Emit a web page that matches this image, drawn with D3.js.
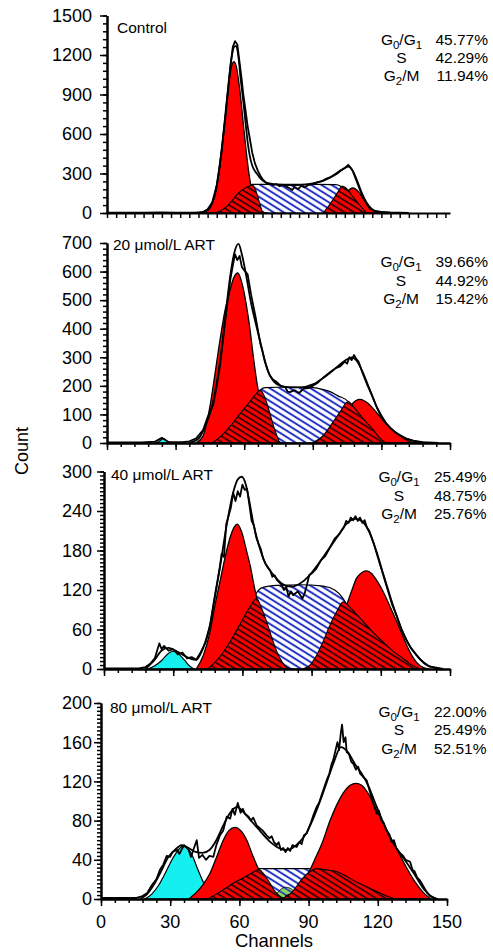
<!DOCTYPE html>
<html>
<head>
<meta charset="utf-8" />
<script src="https://cdn.jsdelivr.net/npm/d3@7"></script>
<style>
  body { margin: 0; background: #fff; }
  text { font-family: "Liberation Sans", Arial, sans-serif; fill: #000; }
</style>
</head>
<body>
<script>
// ---- data: [channel, count] ----
const xTicks = [0, 30, 60, 90, 120, 150];
const panelTitles = ["Control", "20 \u03bcmol/L ART", "40 \u03bcmol/L ART", "80 \u03bcmol/L ART"];
const phases = ["G_0/G_1", "S", "G_2/M"];

// Control
const ctrlYTicks = [0, 300, 600, 900, 1200, 1500];
const ctrlPct = ["45.77%", "42.29%", "11.94%"];
const ctrlRaw = [[0,2],[8,3],[16,2],[24,4],[30,2],[36,3],[40,3],[42,8],[44,28],[46,80],[48,210],[50,450],[52,760],[54,1120],[55,1260],[56,1305],[57,1280],[58,1140],[59,1000],[59.6,900],[60.5,790],[61.5,660],[62.5,560],[63.5,460],[64.7,377],[66,320],[67,285],[68,258],[69.8,225],[71,222],[72.5,212],[74,220],[75.5,203],[77,214],[78.5,200],[80,186],[81,175],[82,198],[83.5,182],[85,206],[86.5,195],[88,212],[90,220],[92,232],[94,242],[96,262],[98,275],[100,298],[102,322],[104,342],[105.5,366],[106.5,345],[107.5,318],[109,250],[110.5,180],[112,118],[113.5,70],[115,32],[117,15],[120,8],[124,4],[128,2],[132,0]];
const ctrlFit = [[38,0],[41,4],[43,12],[45,42],[47,128],[49,320],[51,620],[53,960],[54.5,1180],[55.5,1260],[56.5,1270],[57.5,1180],[58.5,1010],[59.6,850],[60.5,700],[61.5,540],[62.5,428],[63.5,360],[65.5,300],[67.5,255],[70,228],[75,215],[80,212],[85,214],[90,225],[95,248],[100,292],[103,330],[105.5,352],[107.5,320],[109.5,240],[111.5,150],[113.5,80],[115.5,35],[118,12],[122,3],[126,0]];
const ctrlG1 = [[41,0],[43,9],[45,37],[47,121],[49,309],[51,611],[53,946],[54.5,1115],[55.5,1150],[56.5,1115],[58,946],[60,611],[62,309],[64,121],[66,37],[68,9],[70,0]];
const ctrlG2 = [[97,0],[99,27],[101,61],[103,110],[105,160],[107.5,190],[110,160],[112,110],[114,61],[116,27],[118,10],[120,0]];
const ctrlHumpL = [[47,0],[50,20],[52.3,48],[55,100],[57.4,150],[60,185],[62,203],[63.5,212],[65,175],[66.5,90],[68,0]];
const ctrlHumpR = [[94.5,0],[97,55],[99.5,120],[101.5,175],[102.7,205],[104.5,190],[107,135],[109.5,80],[111.5,40],[113.5,0]];
const ctrlS = [[60,0],[62,190],[63.5,218],[70,218],[80,218],[90,217],[100,216],[102,205],[104,0]];

// 20 umol/L
const art20YTicks = [0, 100, 200, 300, 400, 500, 600, 700];
const art20Pct = ["39.66%", "44.92%", "15.42%"];
const art20Raw = [[0,2],[15,2],[21,5],[24,18],[27,3],[33,3],[36,6],[39,16],[42,45],[44,90],[46.5,135],[48,200],[49.5,275],[51,380],[52.5,480],[54,575],[55,620],[56,660],[57,640],[58,655],[59,615],[60.5,600],[61.5,590],[63,520],[64,480],[65,440],[66,395],[67,350],[68,320],[69,285],[70,260],[71,240],[72.5,222],[74,215],[76,200],[78,195],[79,180],[80,178],[82,185],[84,175],[86,190],[88,192],[90,200],[92,210],[94,225],[96,238],[98,250],[100,262],[102,268],[104,285],[105,278],[106,300],[107,290],[108,308],[109,295],[110,285],[112,240],[114,200],[116,165],[118,125],[120,95],[122,70],[124,52],[126,38],[128,28],[131,15],[134,8],[138,3],[145,0]];
const art20Fit = [[36,0],[40,15],[43,60],[46,130],[48,210],[50,320],[52,460],[54,590],[55.5,660],[57.5,697],[59,660],[61,580],[63,490],[65,420],[67,355],[69,290],[71,240],[73,215],[76,200],[80,195],[85,195],[90,205],[95,230],[100,262],[104,288],[107,300],[109,290],[112,245],[115,185],[118,125],[121,80],[124,52],[127,32],[131,15],[136,4],[142,0]];
const art20G1 = [[39,0],[42,25],[45,127],[47,230],[49.4,360],[51.5,460],[53.8,535],[55.5,580],[57.2,595],[59,560],[61,480],[62.5,400],[64,302],[66,190],[68,110],[70,55],[72,25],[75,5],[77,0]];
const art20G2 = [[90,0],[93,15],[95,25],[98,42],[101,65],[104,95],[107,135],[110.6,153],[114,140],[117,115],[119.4,92],[122,68],[125,45],[127,32],[130,15],[133,4],[136,0]];
const art20HumpL = [[46,0],[50,25],[54,60],[58,100],[62,140],[65,170],[67,185],[69,160],[71,110],[73,55],[75.5,0]];
const art20HumpR = [[91,0],[95,30],[99,75],[102,110],[105.5,145],[108,125],[112,85],[116,50],[119,20],[122,0]];
const art20S = [[63,0],[65,150],[67,185],[69,194],[80,196],[90,194],[95,186],[97.5,180],[101,165],[105.5,145],[108,100],[110,0]];
const art20Cyan = [[21,0],[23,7],[24.6,15],[26.2,7],[28,0]];

// 40 umol/L
const art40YTicks = [0, 60, 120, 180, 240, 300];
const art40Pct = ["25.49%", "48.75%", "25.76%"];
const art40Raw = [[0,1],[15,1],[18,3],[20,8],[22,16],[24,39],[25,30],[26,35],[28,28],[30,30],[32,22],[34,25],[36,16],[38,18],[40,14],[42,26],[44,40],[46,67],[48,110],[50,150],[51,175],[52,170],[53,220],[55,245],[56,268],[57,255],[58,270],[59,262],[60,280],[61,272],[62,274],[63,250],[64,225],[65,218],[66,200],[67,190],[68,182],[69,168],[70,160],[72,150],[73,140],[74,142],[75,135],[77,128],[78,120],[79,125],[80,110],[81,118],[82,112],[84,118],[86,107],[87,115],[88,128],[89,143],[90,145],[92,152],[94,165],[96,172],[98,185],[100,198],[102,205],[104,215],[105,225],[106,222],[107,230],[108,226],[109,232],[110,225],[111,230],[112,222],[113,226],[114,215],[115,210],[116,200],[117,190],[118,178],[120,155],[121,143],[123,120],[125,97],[127,80],[129,60],[131,45],[133,32],[135.5,21],[137,15],[139,9],[141,4],[144,2],[147,0]];
const art40Fit = [[18,0],[22,14],[25,28],[28,32],[31,28],[35,20],[38,15],[40,14],[42,24],[44,42],[46,67],[48,108],[50.3,155],[53,215],[56,268],[58,288],[59.7,292],[61.5,280],[63,255],[64.7,222],[67,190],[70,160],[73,145],[77,130],[81,125],[85,130],[89,142],[93,160],[97,180],[101,200],[105,220],[109,228],[112,224],[115,208],[118,180],[121,145],[125,100],[129,60],[132,38],[135.5,21],[139,8],[143,2],[146,0]];
const art40G1 = [[40,0],[43,20],[46,57],[48,95],[50.3,133],[52.5,170],[54.6,199],[56.5,216],[57.8,220],[59.5,210],[61.9,178],[63.5,155],[64.7,133],[66.9,97],[69,65],[71,40],[74,15],[77,3],[80,0]];
const art40G2 = [[92,0],[96,10],[100,40],[103,75],[105.2,97],[107.5,120],[109.5,138],[112,147],[113.9,149],[116,145],[118.5,133],[121.1,117],[124,95],[126.9,72],[129.5,50],[132.6,26],[135.5,10],[138.5,2],[141,0]];
const art40HumpL = [[45,0],[48,10],[51,22],[54.6,41],[58,62],[60.4,77],[63,93],[66.2,107],[68,95],[70.5,72],[73,45],[75,26],[77,12],[79.5,2],[82,0]];
const art40HumpR = [[86,0],[89,5],[92.2,21],[95,42],[98,67],[101,88],[103.7,102],[106,96],[109,85],[112.4,72],[116,58],[121,41],[125,28],[129.7,16],[133,7],[137,0]];
const art40S = [[62,0],[64,90],[66,115],[69,124],[75,127],[85,128],[95,126],[100,120],[103,110],[106,90],[108,0]];
const art40Cyan = [[19,0],[22,5],[25,13],[28,24],[30,27],[32,24],[35,13],[37,5],[39,0]];

// 80 umol/L
const art80YTicks = [0, 40, 80, 120, 160, 200];
const art80Pct = ["22.00%", "25.49%", "52.51%"];
const art80Raw = [[0,1],[15,1],[18,3],[20,6],[22,14],[24,20],[25.6,30],[27,35],[28.5,44],[30,43],[31,48],[33,50],[34,46],[36,55],[38,50],[39,43],[40,50],[41.5,60],[42.5,42],[44,45],[45.5,40],[47,44],[48.7,43],[50,55],[51.6,65],[53,70],[54.5,84],[56,82],[57,92],[58,86],[59.3,98],[60.5,88],[61.5,92],[62.4,87],[64,84],[65,80],[66,83],[67.5,75],[69,72],[70,70],[71.8,65],[73,62],[74,64],[75,58],[76.2,55],[77,58],[78,50],[79,52],[80,48],[81,52],[82,49],[83,55],[84.8,53],[86,58],[87,56],[88,65],[89.2,67],[90,72],[91,78],[92,85],[93.5,94],[94.5,98],[95.5,105],[96.5,112],[97.8,121],[99,128],[100,138],[100.7,142],[101.5,150],[102.5,160],[103.2,152],[104,170],[104.5,178],[105.2,160],[106,165],[106.5,150],[107.5,148],[108.5,140],[109.4,138],[110.5,132],[111.5,135],[112.3,128],[113.5,125],[115.2,121],[116.5,110],[118,98],[119.5,87],[120.5,90],[121.5,80],[122.5,78],[123.8,70],[125,66],[126,58],[127,60],[128,52],[129.6,47],[131,44],[132,40],[134,38],[135,30],[136,28],[137,22],[138.3,19],[139.5,14],[141,8],[142.6,3],[145,0]];
const art80Fit = [[17,0],[20,5],[23,15],[26,28],[29,42],[32,50],[35,55],[38,52],[41,48],[44,47],[47,50],[50,60],[53,75],[56,88],[59,94],[62,88],[65,80],[68,72],[71,64],[74,57],[77,52],[80,50],[83,52],[86,58],[89,67],[92,82],[95,100],[98,120],[101,140],[104,155],[107,150],[110,138],[113,128],[116,115],[119,97],[122,80],[125,64],[128,52],[131,42],[134,32],[137,21],[140,10],[143,3],[146,0]];
const art80G1 = [[38,0],[41,6],[44,14],[47.2,26],[50,42],[53,60],[55.5,70],[58.1,73],[60.5,70],[63.2,60],[66,43],[68.2,31],[70.5,20],[73,11],[76,4],[79,0]];
const art80G2 = [[80,3],[84,8],[87,15],[90,27],[93,42],[96,58],[99.3,80],[102,95],[105,108],[108,116],[110.5,118],[113,116],[116,107],[120,88],[124,70],[128,52],[132,34],[136,18],[140,6],[143,0]];
const art80HumpL = [[46,0],[50,5],[54,11],[58,17],[62,22],[65,26],[68.5,30],[71,24],[73.3,16],[75,9],[77,4],[79,1],[81,0]];
const art80HumpR = [[78,0],[80,2],[82,5],[84.8,13],[87,20],[90.6,28],[93.5,31],[97,30],[102,28],[106.5,23],[111,17],[116.6,11],[121,6],[125,2],[128,0]];
const art80S = [[66,0],[67.5,28],[68.5,31],[80,31],[91,31],[92.5,28],[94,0]];
const art80Green = [[74,0],[76,5],[78,10],[80,12],[82,11],[84,7],[86,0]];
const art80Cyan = [[19,0],[22,5],[25,14],[28,27],[31,41],[33.5,50],[35.5,54],[37.5,52],[40,42],[42,30],[44,19],[46,10],[49,3],[52,0]];

// ---- layout ----
const width = 493, height = 952;
const panels = [
    { left: 107, right: 450, bottom: 213, top: 15.5, ymax: 1500, yTicks: ctrlYTicks, yMinor: 60, xMinor: 4, xMajor: false,
      titleX: 117, titleY: 32.5, statY: [44.5, 62.5, 81], labelX: 401.5, pctX: 488,
      raw: ctrlRaw, fit: ctrlFit, g1: ctrlG1, g2: ctrlG2, humpL: ctrlHumpL, humpR: ctrlHumpR, s: ctrlS, pct: ctrlPct },
    { left: 107, right: 450, bottom: 443, top: 243, ymax: 700, yTicks: art20YTicks, yMinor: 20, xMinor: 6, xMajor: true,
      titleX: 113, titleY: 250, statY: [267, 285.5, 304], labelX: 401, pctX: 488,
      raw: art20Raw, fit: art20Fit, g1: art20G1, g2: art20G2, humpL: art20HumpL, humpR: art20HumpR, s: art20S, cyan: art20Cyan, pct: art20Pct },
    { left: 104, right: 450, bottom: 669, top: 471.5, ymax: 300, yTicks: art40YTicks, yMinor: 6, xMinor: 6, xMajor: true,
      titleX: 111, titleY: 480, statY: [482, 500.5, 519], labelX: 399, pctX: 486.5,
      raw: art40Raw, fit: art40Fit, g1: art40G1, g2: art40G2, humpL: art40HumpL, humpR: art40HumpR, s: art40S, cyan: art40Cyan, pct: art40Pct },
    { left: 101, right: 447, bottom: 899, top: 703, ymax: 200, yTicks: art80YTicks, yMinor: 4, xMinor: 6, xMajor: true,
      titleX: 110, titleY: 713, statY: [717, 735, 753.5], labelX: 399, pctX: 486.5, xLabels: true,
      raw: art80Raw, fit: art80Fit, g1: art80G1, g2: art80G2, humpL: art80HumpL, humpR: art80HumpR, s: art80S, cyan: art80Cyan, green: art80Green, pct: art80Pct }
];

const svg = d3.select("body").append("svg")
    .attr("width", width)
    .attr("height", height)
    .style("background", "#fff");

// hatch patterns
const defs = svg.append("defs");
function hatch(id, bg, lineColor, size, lw) {
    const p = defs.append("pattern")
        .attr("id", id)
        .attr("patternUnits", "userSpaceOnUse")
        .attr("width", 10).attr("height", size)
        .attr("patternTransform", "rotate(32)");
    p.append("rect").attr("width", 10).attr("height", size).attr("fill", bg);
    p.append("line")
        .attr("x1", 0).attr("x2", 10)
        .attr("y1", size / 2).attr("y2", size / 2)
        .attr("stroke", lineColor).attr("stroke-width", lw);
}
hatch("blueHatch", "#ffffff", "#2433c8", 5.4, 2.0);
hatch("redHatch", "#ff0000", "#000000", 5.0, 1.5);
hatch("greenHatch", "#8ad65c", "#2433c8", 5.4, 1.6);

function subText(sel, str, bigSize, smallSize) {
    // "G_0/G_1" -> G with subscript 0 etc.
    const parts = str.split(/_(.)/);
    let shifted = false;
    parts.forEach((t, i) => {
        if (!t) return;
        const sub = i % 2 === 1;
        const ts = sel.append("tspan").text(t);
        if (sub) {
            ts.attr("font-size", smallSize).attr("dy", shifted ? 0 : 4);
            shifted = true;
        } else {
            ts.attr("font-size", bigSize);
            if (shifted) { ts.attr("dy", -4); shifted = false; }
        }
    });
}

function drawPanel(p, idx) {
    const x = d3.scaleLinear().domain([0, 150]).range([p.left, p.right]);
    const y = d3.scaleLinear().domain([0, p.ymax]).range([p.bottom, p.top]);
    const g = svg.append("g");

    const area = d3.area()
        .x(d => x(d[0]))
        .y0(y(0))
        .y1(d => y(d[1]))
        .curve(d3.curveMonotoneX);
    const smooth = d3.line().x(d => x(d[0])).y(d => y(d[1])).curve(d3.curveMonotoneX);
    const jagged = d3.line().x(d => x(d[0])).y(d => y(d[1]));

    // S phase (behind)
    g.append("path").attr("d", area(p.s))
        .attr("fill", "url(#blueHatch)").attr("stroke", "#000").attr("stroke-width", 1.2);
    if (p.green) {
        g.append("path").attr("d", area(p.green))
            .attr("fill", "url(#greenHatch)").attr("stroke", "#000").attr("stroke-width", 0.8);
    }
    if (p.cyan) {
        g.append("path").attr("d", area(p.cyan))
            .attr("fill", "#14f0f0").attr("stroke", "#000").attr("stroke-width", 1.2);
    }
    // G0/G1 and G2/M peaks
    [p.g1, p.g2].forEach(d => {
        g.append("path").attr("d", area(d))
            .attr("fill", "#ff0000").attr("stroke", "#000").attr("stroke-width", 1.3);
    });
    // hatched humps
    [p.humpL, p.humpR].forEach(d => {
        g.append("path").attr("d", area(d))
            .attr("fill", "url(#redHatch)").attr("stroke", "#000").attr("stroke-width", 1.1);
    });
    // model and data curves
    g.append("path").attr("d", smooth(p.fit))
        .attr("fill", "none").attr("stroke", "#000").attr("stroke-width", 1.8);
    g.append("path").attr("d", jagged(p.raw))
        .attr("fill", "none").attr("stroke", "#000").attr("stroke-width", 1.8)
        .attr("stroke-linejoin", "round");

    // y axis
    const yMinorAxis = d3.axisLeft(y)
        .tickValues(d3.range(0, p.ymax + 0.01, p.yMinor))
        .tickSize(4).tickSizeOuter(0).tickFormat("");
    const yMajorAxis = d3.axisLeft(y)
        .tickValues(p.yTicks)
        .tickSize(7).tickSizeOuter(0).tickFormat("");
    const ya = g.append("g").attr("transform", `translate(${p.left},0)`);
    ya.append("g").call(yMinorAxis);
    ya.append("g").call(yMajorAxis);

    // x axis
    const xMinorAxis = d3.axisBottom(x)
        .tickValues(d3.range(0, 150.01, p.xMinor))
        .tickSize(p.xMajor ? 4 : 5).tickSizeOuter(0).tickFormat("");
    const xa = g.append("g").attr("transform", `translate(0,${p.bottom})`);
    xa.append("g").call(xMinorAxis);
    if (p.xMajor) {
        xa.append("g").call(d3.axisBottom(x).tickValues(xTicks).tickSize(7).tickSizeOuter(0).tickFormat(""));
    }
    g.selectAll(".domain").attr("stroke-width", 2);
    g.selectAll(".tick line").attr("stroke-width", 1.5);

    // y tick labels
    g.selectAll(".ylab")
        .data(p.yTicks)
        .enter()
        .append("text")
        .attr("x", 92)
        .attr("y", d => y(d))
        .attr("dy", "0.35em")
        .attr("text-anchor", "end")
        .attr("font-size", 18)
        .text(d => d);

    if (p.xLabels) {
        g.selectAll(".xlab")
            .data(xTicks)
            .enter()
            .append("text")
            .attr("x", d => x(d))
            .attr("y", p.bottom + 29)
            .attr("text-anchor", "middle")
            .attr("font-size", 18)
            .text(d => d);
    }

    // title
    g.append("text")
        .attr("x", p.titleX).attr("y", p.titleY)
        .attr("font-size", 15.5)
        .text(panelTitles[idx]);

    // phase percentages
    phases.forEach((ph, i) => {
        const t = g.append("text")
            .attr("x", p.labelX).attr("y", p.statY[i])
            .attr("text-anchor", "middle");
        subText(t, ph, 15.5, 11.5);
        g.append("text")
            .attr("x", p.pctX).attr("y", p.statY[i])
            .attr("text-anchor", "end")
            .attr("font-size", 15.5)
            .text(p.pct[i]);
    });
}

panels.forEach(drawPanel);

// axis titles
svg.append("text")
    .attr("transform", "translate(28,451) rotate(-90)")
    .attr("text-anchor", "middle")
    .attr("font-size", 18)
    .text("Count");
svg.append("text")
    .attr("x", 274)
    .attr("y", 947)
    .attr("text-anchor", "middle")
    .attr("font-size", 18.5)
    .text("Channels");
</script>
</body>
</html>
